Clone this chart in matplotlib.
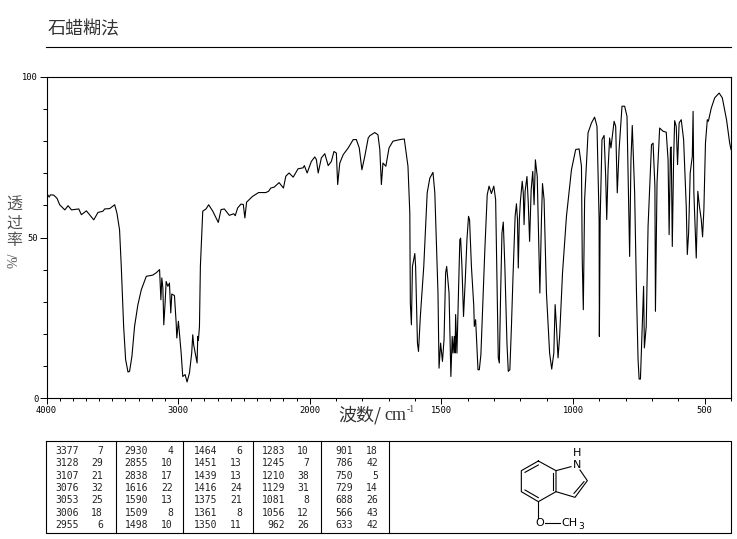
import numpy as np
import matplotlib
matplotlib.use('Agg')
import matplotlib.pyplot as plt
from matplotlib.ticker import FixedLocator, FixedFormatter, NullFormatter

plt.rcParams['font.family'] = ['Noto Sans CJK SC', 'DejaVu Sans']

# spectrum: wavenumber, transmittance
wavenumber = [
    4000, 3980, 3970, 3945, 3920, 3900, 3861, 3836, 3810, 3755, 3735, 3697, 3641, 3609, 3571, 3558,
    3520, 3482, 3465, 3445, 3432, 3414, 3399, 3381, 3369, 3351, 3331, 3306, 3280, 3242, 3192, 3167,
    3141, 3131, 3124, 3116, 3109, 3099, 3091, 3078, 3066, 3056, 3048, 3028, 3015, 3010, 2998, 2977,
    2965, 2947, 2932, 2914, 2897, 2889, 2882, 2870, 2856, 2851, 2846, 2838, 2831, 2813, 2788, 2768,
    2737, 2695, 2674, 2649, 2611, 2578, 2566, 2548, 2523, 2505, 2493, 2480, 2435, 2389, 2334, 2313,
    2296, 2270, 2233, 2200, 2182, 2157, 2126, 2089, 2051, 2041, 2020, 1994, 1981, 1975, 1968, 1956,
    1943, 1930, 1918, 1908, 1899, 1894, 1886, 1873, 1854, 1835, 1823, 1812, 1802, 1791, 1778, 1772,
    1753, 1741, 1734, 1728, 1722, 1711, 1699, 1684, 1658, 1641, 1627, 1620, 1618, 1614, 1610, 1601,
    1598, 1591, 1587, 1580, 1567, 1554, 1544, 1532, 1525, 1513, 1509, 1503, 1496, 1490, 1484, 1480,
    1471, 1464, 1459, 1456, 1451, 1448, 1446, 1441, 1435, 1430, 1427, 1422, 1416, 1409, 1403, 1397,
    1393, 1386, 1377, 1375, 1370, 1364, 1361, 1356, 1350, 1344, 1335, 1326, 1319, 1310, 1301, 1294,
    1289, 1284, 1280, 1275, 1270, 1265, 1259, 1251, 1246, 1240, 1234, 1228, 1220, 1215, 1211, 1208,
    1204, 1200, 1193, 1189, 1186, 1182, 1175, 1170, 1165, 1159, 1153, 1148, 1143, 1136, 1130, 1126,
    1120, 1116, 1110, 1101, 1089, 1081, 1073, 1068, 1063, 1057, 1051, 1040, 1025, 1006, 990, 977,
    968, 965, 961, 956, 943, 930, 918, 909, 901, 900, 897, 890, 882, 876, 872, 867, 861, 856, 844,
    838, 832, 825, 814, 804, 795, 785, 780, 775, 766, 759, 753, 749, 744, 737, 732, 729, 722, 715,
    702, 696, 689, 687, 681, 671, 658, 646, 639, 635, 630, 627, 623, 618, 614, 608, 603, 597, 589,
    580, 570, 566, 561, 555, 547, 544, 541, 532, 526, 520, 513, 508, 503, 497, 490, 486, 475, 462,
    445, 433, 417, 405, 400]
transmittance = [
    63.9, 62.6, 63.3, 63.2, 62.2, 60.2, 58.6, 59.9, 58.6, 58.9, 57.1, 58.3, 55.5, 57.8, 58.2, 58.9,
    59, 60.2, 57.6, 52.4, 41, 22.3, 12, 8.1, 8.3, 13, 22.3, 29, 33.7, 37.9, 38.3, 39,
    40, 30.6, 37.4, 34.3, 22.8, 29.6, 36.3, 34.8, 35.8, 26.5, 32.4, 31.9, 23.4, 18.7, 23.9, 14,
    6.7, 7.3, 5, 7.8, 14, 19.7, 16.6, 14, 10.9, 19.2, 18, 22.3, 41, 58.2, 58.9, 60.2,
    58.2, 54.7, 58.7, 58.9, 56.9, 57.4, 56.8, 59.2, 60.4, 60.3, 56.1, 61, 62.8, 64, 64, 64.4,
    65.4, 65.7, 67.1, 65.4, 69.1, 70.1, 68.8, 71.4, 71.7, 72.4, 70.1, 73.7, 75.1, 74.3, 70.1, 74.8,
    76.1, 72.4, 73.7, 76.8, 76.3, 66.5, 73.2, 75.8, 77.9, 80.5, 80.5, 77.9, 71.1, 75.3, 81, 81.7,
    82.7, 82, 77.4, 66.5, 73.2, 72.2, 77.9, 80, 80.5, 80.7, 72.2, 57.6, 29.6, 22.8, 41, 45,
    41, 17.1, 14.5, 25.4, 41, 63.9, 68.5, 70.3, 63.9, 32.7, 9.3, 17.1, 11.4, 18.2, 38.9, 41,
    32.7, 6.7, 19.2, 14, 19.2, 14, 26, 14, 32.7, 49.3, 49.8, 41, 25.4, 37.4, 49.3, 56.6,
    55.5, 41, 28.6, 22.3, 24.4, 14, 8.8, 8.8, 13.5, 26.5, 46.2, 63.3, 66, 63.7, 66, 61.8,
    37.9, 12.5, 10.9, 32.7, 51.4, 54.8, 41, 17.1, 8.3, 8.8, 22.3, 37.9, 56.6, 60.5, 55.6, 40.5,
    55.6, 61.3, 67.5, 63.9, 54, 64.4, 69, 60.7, 48.8, 64.9, 70.6, 60.2, 74.2, 69, 47.2, 32.7,
    55.6, 66.8, 61.8, 32.7, 14, 9, 14, 29.1, 22.3, 12.5, 19.2, 38.9, 56.6, 71.1, 77.4, 77.6,
    72.2, 43, 27.5, 61.8, 82.6, 85.7, 87.5, 84.6, 55.6, 19.2, 55.6, 80.5, 81.8, 69, 55.6, 71.1, 81, 77.9, 86.2,
    84.6, 63.9, 77.4, 90.9, 90.9, 87.7, 44.1, 74.2, 84.9, 63.9, 32.7, 11.9, 5.9, 5.9, 22.3, 34.8, 15.6, 22.3, 53.5,
    78.9, 79.4, 65.9, 27, 67, 84.1, 83.1, 82.8, 74.2, 50.9, 77.9, 78.2, 47.2, 74.2, 86.4, 84.6, 72.7, 85.7, 86.7,
    80.5, 59.7, 44.7, 51.4, 70.1, 75.3, 89.3, 63.9, 43.6, 64.4, 59.7, 55.6, 50.2, 58.7, 79.4, 86.7, 86.2, 90.3, 93.5,
    95, 93.5, 86.7, 79.4, 77.4]

x_major = [4000, 3000, 2000, 1500, 1000, 500]
x_major_labels = ['4000', '3000', '2000', '1500', '1000', '500']
y_major = [0, 50, 100]
y_major_labels = ['0', '50', '100']

# peak table, one block per column
peak_wn = [
    ['3377', '3128', '3107', '3076', '3053', '3006', '2955'],
    ['2930', '2855', '2838', '1616', '1590', '1509', '1498'],
    ['1464', '1451', '1439', '1416', '1375', '1361', '1350'],
    ['1283', '1245', '1210', '1129', '1081', '1056', '962'],
    ['901', '786', '750', '729', '688', '566', '633'],
]
peak_t = [
    ['7', '29', '21', '32', '25', '18', '6'],
    ['4', '10', '17', '22', '13', '8', '10'],
    ['6', '13', '13', '24', '21', '8', '11'],
    ['10', '7', '38', '31', '8', '12', '26'],
    ['18', '42', '5', '14', '26', '43', '42'],
]

W, H = 737, 539
fig = plt.figure(figsize=(W / 100, H / 100), dpi=100, facecolor='white')

# overlay in pixel coordinates for the header, table and structure
bg = fig.add_axes([0, 0, 1, 1])
bg.set_xlim(0, W)
bg.set_ylim(H, 0)
bg.axis('off')


# the x axis is stretched by two below 2000
def fwd(x):
    x = np.asarray(x, dtype=float)
    return np.where(x <= 2000, x, 2000 + (x - 2000) / 2)


def inv(x):
    x = np.asarray(x, dtype=float)
    return np.where(x <= 2000, x, 2000 + (x - 2000) * 2)


ax = fig.add_axes([46.5 / W, (H - 398) / H, (731 - 46.5) / W, 321 / H])
ax.patch.set_alpha(0)
ax.plot(wavenumber, transmittance, color='black', lw=0.8)
ax.set_xscale('function', functions=(fwd, inv))
ax.set_xlim(4000, 400)
ax.set_ylim(0, 100)
ax.xaxis.set_major_locator(FixedLocator(x_major))
ax.xaxis.set_major_formatter(FixedFormatter(x_major_labels))
ax.xaxis.set_minor_locator(FixedLocator(np.arange(400, 4000, 100)))
ax.xaxis.set_minor_formatter(NullFormatter())
ax.yaxis.set_major_locator(FixedLocator(y_major))
ax.yaxis.set_major_formatter(FixedFormatter(y_major_labels))
ax.yaxis.set_minor_locator(FixedLocator(np.arange(0, 100, 10)))
ax.tick_params(axis='x', which='major', length=4, width=0.7, pad=2, labelsize=6.3, labelfontfamily='DejaVu Sans Mono')
ax.tick_params(axis='x', which='minor', length=2, width=0.7)
ax.tick_params(axis='y', which='major', length=5, width=0.7, pad=1, labelsize=6.3, labelfontfamily='DejaVu Sans Mono')
ax.tick_params(axis='y', which='minor', length=3, width=0.7)
for s in ax.spines.values():
    s.set_linewidth(0.8)

# header
bg.text(48, 29, '石蜡糊法', fontsize=13, color='#333333', va='center', ha='left')
bg.plot([46, 731], [47, 47], color='black', lw=0.8)

# axis titles
for ch, y in zip('透过率', [205, 223, 241]):
    bg.text(14, y, ch, fontsize=11.5, color='#555555', ha='center', va='center')
bg.text(14, 260, '%/', fontsize=10, color='#555555', rotation=90, ha='center', va='center', family='Liberation Serif')
bg.text(338, 415, '波数/', fontsize=13, color='#333333', ha='left', va='center')
bg.text(384, 416, 'cm', fontsize=13, color='#333333', ha='left', va='center', family='Liberation Serif')
bg.text(407, 410, '-1', fontsize=7, color='#333333', ha='left', va='center', family='Liberation Serif')

# table frame
bg.plot([46, 731, 731, 46, 46], [441, 441, 533, 533, 441], color='black', lw=0.8)
for x in [116, 183, 253, 321, 389]:
    bg.plot([x, x], [441, 533], color='black', lw=0.8)

wn_right = [79, 148, 217, 285, 353]
t_right = [103, 173, 242, 309, 378]
for c in range(5):
    for r in range(7):
        y = 451 + r * 12.3
        bg.text(wn_right[c], y, peak_wn[c][r], fontsize=7, ha='right', va='center', family='DejaVu Sans Mono', color='#222222')
        bg.text(t_right[c], y, peak_t[c][r], fontsize=7, ha='right', va='center', family='DejaVu Sans Mono', color='#222222')


# structure, given in zoom coordinates of the crop
def mol(pts):
    bg.plot([480 + p[0] / 3 for p in pts], [435 + p[1] / 3 for p in pts], color='black', lw=0.8)


mol([(175, 78), (228, 107), (228, 170), (175, 200), (124, 170), (124, 107), (175, 78)])
mol([(135, 112), (175, 90)])
mol([(218, 113), (218, 165)])
mol([(135, 165), (175, 188)])
mol([(228, 107), (273, 95)])
mol([(300, 105), (322, 137), (285, 187), (228, 170)])
mol([(312, 140), (282, 175)])
mol([(175, 200), (175, 250)])
mol([(195, 263), (240, 263)])
bg.text(480 + 290 / 3, 435 + 55 / 3, 'H', fontsize=8, ha='center', va='center', family='DejaVu Sans')
bg.text(480 + 290 / 3, 435 + 90 / 3, 'N', fontsize=8, ha='center', va='center', family='DejaVu Sans')
bg.text(480 + 180 / 3, 435 + 265 / 3, 'O', fontsize=8, ha='center', va='center', family='DejaVu Sans')
bg.text(480 + 245 / 3, 435 + 265 / 3, 'CH', fontsize=8, ha='left', va='center', family='DejaVu Sans')
bg.text(480 + 296 / 3, 435 + 275 / 3, '3', fontsize=6.5, ha='left', va='center', family='DejaVu Sans')

fig.savefig('out.png', dpi=100)
